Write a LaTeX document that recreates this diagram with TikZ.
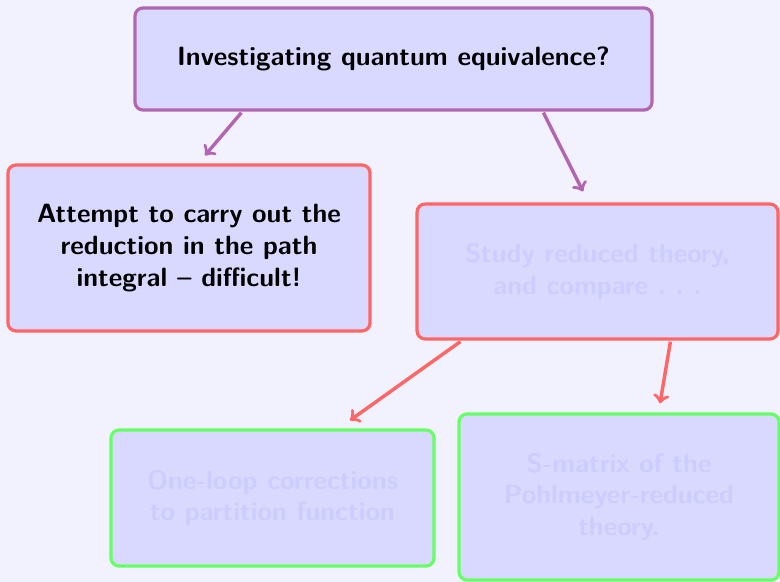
\documentclass[tikz,border=0pt]{standalone}
\usepackage{xcolor}
\usetikzlibrary{positioning, calc}
\tikzset{
  box/.style={rectangle, rounded corners=3.5pt, line width=1.4pt, fill=blue!15, align=center, font=\fontsize{11.5}{13.8}\selectfont\sffamily\bfseries},
  topbox/.style={box, draw=violet!60},
  midbox/.style={box, draw=red!60},
  lowbox/.style={box, draw=green!60},
  faded/.style={text=blue!20},
  arrow/.style={line width=1.5pt, ->}
}

\begin{document}
\begin{tikzpicture}[x=0.435pt, y=-0.435pt]
% background and page frame
\fill[blue!5] (0,0) rectangle (780,582);
\useasboundingbox (0,0) rectangle (780,582);

% question
\node[topbox, minimum width=224.9pt, minimum height=44.4pt] (quest) at (393.5,59) {Investigating quantum equivalence?};

% second level
\node[midbox, minimum width=157.5pt, minimum height=72.2pt] (path) at (189,248) {Attempt to carry out the\\ reduction in the path\\ integral -- difficult!};
\node[midbox, faded, minimum width=157pt, minimum height=58.7pt] (study) at (597.5,271.5) {Study reduced theory,\\ and compare .~.~.};

% third level
\node[lowbox, faded, minimum width=140.5pt, minimum height=59.2pt] (loop) at (272.5,498) {One-loop corrections\\ to partition function};
\node[lowbox, faded, minimum width=139.2pt, minimum height=72.2pt] (smat) at (619,497) {S-matrix of the\\ Pohlmeyer-reduced\\ theory.};

\draw[arrow, violet!60] ($(quest.south west)+(108,1)$) -- ($(path.north)+(16,-8)$);
\draw[arrow, violet!60] ($(quest.south west)+(410,1)$) -- ($(study.north)+(-14.5,-11)$);
\draw[arrow, red!60] ($(study.south west)+(45,1)$) -- ($(loop.north)+(77.5,-8)$);
\draw[arrow, red!60] ($(study.south west)+(255,1)$) -- ($(smat.north)+(41,-9)$);
\end{tikzpicture}
\end{document}
